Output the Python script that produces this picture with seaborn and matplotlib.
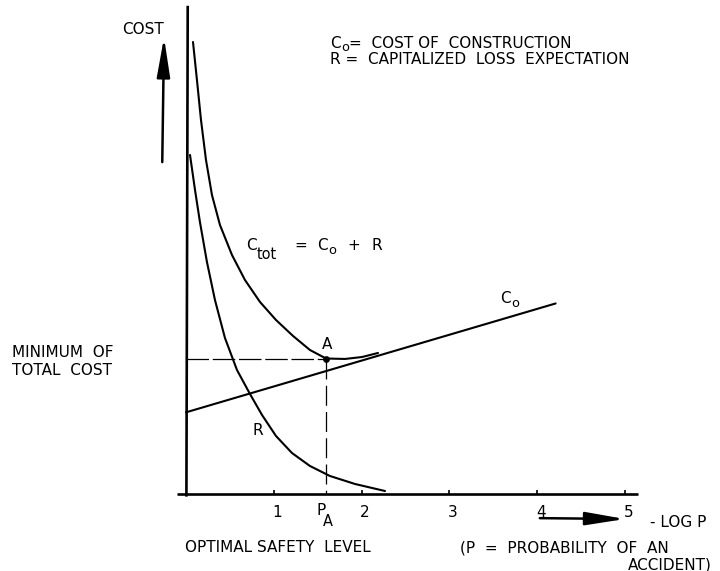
import matplotlib
matplotlib.use("Agg")
import numpy as np
import pandas as pd
import seaborn as sns
import matplotlib.pyplot as plt

# curves (x = -log P, y = cost, arbitrary units)
ctot_x = [0.080, 0.125, 0.171, 0.228, 0.296, 0.387, 0.524, 0.672, 0.843, 1.025,
          1.219, 1.412, 1.595, 1.811, 2.005, 2.187]
ctot_y = [5.148, 4.715, 4.260, 3.804, 3.405, 3.064, 2.722, 2.437, 2.187, 1.982,
          1.800, 1.640, 1.543, 1.538, 1.560, 1.606]

r_x = [0.046, 0.103, 0.159, 0.239, 0.330, 0.444, 0.581, 0.729, 0.866, 1.025,
       1.207, 1.412, 1.640, 1.925, 2.267]
r_y = [3.861, 3.462, 3.098, 2.642, 2.210, 1.777, 1.412, 1.139, 0.900, 0.661,
       0.467, 0.319, 0.205, 0.114, 0.034]

c0_x = [0.0, 4.21]
c0_y = [0.93, 2.17]

a_x = [1.595]
a_y = [1.543]

x_ticks = [1, 2, 3, 4, 5]
x_ticklabels = ["1", "2", "3", "4", "5"]

sns.set_style("white")
plt.rcParams["font.family"] = ["DejaVu Sans"]
plt.rcParams["text.color"] = "black"

FS = 11
LW = 1.5

fig = plt.figure(figsize=(7.2, 5.71), dpi=100)
ax = fig.add_axes([0, 0, 1, 1])
ax.set_xlim(-2.118, 6.082)
ax.set_ylim(-0.877, 5.626)
ax.axis("off")

curves = pd.concat([
    pd.DataFrame({"x": ctot_x, "y": ctot_y, "curve": "Ctot"}),
    pd.DataFrame({"x": r_x, "y": r_y, "curve": "R"}),
    pd.DataFrame({"x": c0_x, "y": c0_y, "curve": "C0"}),
])
sns.lineplot(data=curves, x="x", y="y", units="curve", estimator=None,
             color="black", lw=LW, ax=ax, legend=False)

# axes drawn by hand like the original sketch
ax.plot([-0.1, 5.15], [0, 0], color="black", lw=1.9, solid_capstyle="butt")
ax.plot([0.005, 0.02], [-0.03, 5.56], color="black", lw=1.9, solid_capstyle="butt")
ax.vlines(x_ticks, 0, 0.05, color="black", lw=1.2)

# dashed guides to the optimum
ax.plot([0, a_x[0]], [a_y[0], a_y[0]], color="black", lw=0.9, dashes=(18, 3))
ax.plot([a_x[0], a_x[0]], [a_y[0], 0], color="black", lw=0.9, dashes=(16, 5))
sns.scatterplot(x=a_x, y=a_y, color="black", s=20, ax=ax, zorder=5, edgecolor="black")

for xt, lab in zip(x_ticks, x_ticklabels):
    ax.text(xt + 0.04, -0.13, lab, fontsize=FS, ha="center", va="top")


def sub_label(x, y, main, sub, size=FS, sub_dy=1.0, sub_dx=0.3, sub_size=0.85):
    t = ax.text(x, y, main, fontsize=size, ha="left", va="baseline")
    s = ax.annotate(sub, xy=(1.0, 0.0), xycoords=t, xytext=(sub_dx, sub_dy),
                    textcoords="offset points", fontsize=size * sub_size,
                    ha="left", va="center")
    return t, s


# arrows
ax.annotate("", xy=(-0.25, 5.2), xytext=(-0.27, 3.78),
            arrowprops=dict(arrowstyle="-|>,head_length=1.2,head_width=0.2",
                            lw=1.8, color="black", mutation_scale=20,
                            shrinkA=0, shrinkB=0))
ax.annotate("", xy=(5.0, -0.285), xytext=(4.03, -0.275),
            arrowprops=dict(arrowstyle="-|>,head_length=1.2,head_width=0.2",
                            lw=1.8, color="black", mutation_scale=20,
                            shrinkA=0, shrinkB=0))

ax.text(-0.49, 5.285, "COST", fontsize=FS, ha="center", va="center")

# legend text
t, s = sub_label(1.64, 5.085, "C", "o", sub_dy=2.5)
ax.annotate("=  COST OF  CONSTRUCTION", xy=(1.0, 0.0), xycoords=(s, t),
            fontsize=FS, ha="left", va="bottom")
ax.text(1.64, 4.943, "R =  CAPITALIZED  LOSS  EXPECTATION", fontsize=FS,
        ha="left", va="center")

# C_tot = C_o + R
sub_label(0.683, 2.78, "C", "tot", sub_dy=-1.0, sub_size=0.95)
ax.text(1.24, 2.78, "=", fontsize=FS, ha="left", va="baseline")
sub_label(1.49, 2.78, "C", "o", sub_dy=1.5)
ax.text(1.84, 2.78, "+", fontsize=FS, ha="left", va="baseline")
ax.text(2.11, 2.78, "R", fontsize=FS, ha="left", va="baseline")

sub_label(3.576, 2.175, "C", "o", sub_dy=1.5)
ax.text(1.606, 1.70, "A", fontsize=FS, ha="center", va="center")
ax.text(0.82, 0.718, "R", fontsize=FS, ha="center", va="center")

ax.text(-1.98, 1.606, "MINIMUM  OF", fontsize=FS, ha="left", va="center")
ax.text(-1.98, 1.412, "TOTAL  COST", fontsize=FS, ha="left", va="center")

sub_label(1.49, -0.235, "P", "A", sub_dy=-3.0, sub_dx=-2.0, sub_size=0.95)

ax.text(5.285, -0.33, "- LOG P", fontsize=FS, ha="left", va="center")
ax.text(-0.011, -0.604, "OPTIMAL SAFETY  LEVEL", fontsize=FS, ha="left", va="center")
ax.text(3.12, -0.615, "(P  =  PROBABILITY  OF  AN", fontsize=FS, ha="left", va="center")
ax.text(5.99, -0.809, "ACCIDENT)", fontsize=FS, ha="right", va="center")

fig.savefig("out.png", dpi=100, facecolor="white")
